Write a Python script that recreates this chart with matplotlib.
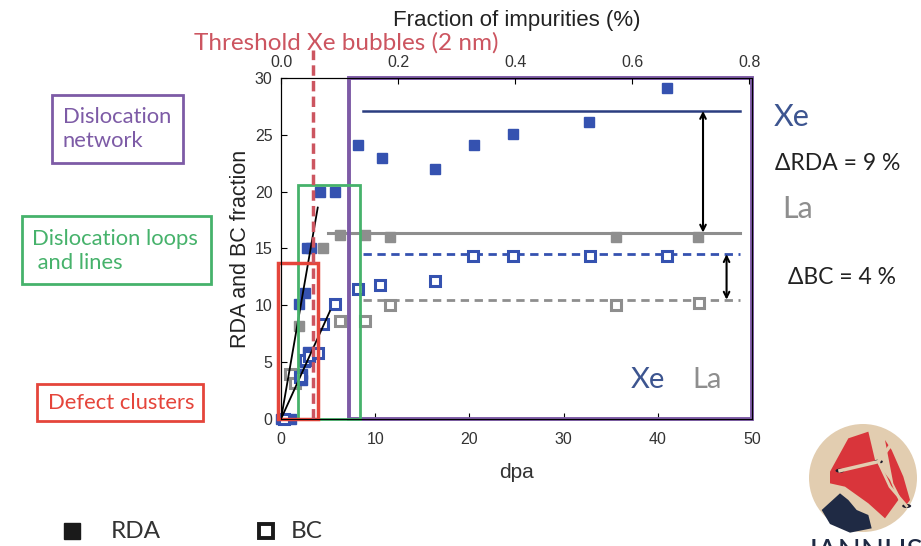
import matplotlib
matplotlib.use("Agg")
import matplotlib.pyplot as plt
from matplotlib.patches import Rectangle, Circle, Polygon, Ellipse

# ---------------- data ----------------
xe_rda_dpa = [0, 1.1, 1.9, 2.2, 2.2, 2.5, 2.5, 2.8, 2.9, 3.2, 4.1, 5.7, 8.2, 10.7, 16.4, 20.5, 24.6, 32.7, 41.0]
xe_rda_val = [0, 0, 10.1, 3.4, 4.0, 5.0, 11.1, 15.0, 5.9, 15.0, 20.0, 20.0, 24.1, 23.0, 22.0, 24.1, 25.1, 26.1, 29.1]

xe_bc_dpa = [0.3, 2.0, 2.6, 3.0, 3.9, 4.5, 5.7, 8.2, 10.5, 16.4, 20.4, 24.6, 32.8, 41.0]
xe_bc_val = [0, 3.7, 5.2, 5.5, 5.8, 8.4, 10.1, 11.4, 11.8, 12.1, 14.3, 14.3, 14.3, 14.3]

la_rda_dpa = [1.9, 3.8, 4.5, 6.3, 8.9, 11.6, 35.6, 44.3]
la_rda_val = [8.2, 5.8, 15.0, 16.2, 16.2, 16.0, 16.0, 16.0]

la_bc_dpa = [1.0, 1.5, 6.3, 8.9, 11.6, 35.6, 44.4]
la_bc_val = [4.0, 3.2, 8.6, 8.6, 10.0, 10.0, 10.2]

# saturation levels (start dpa, end dpa, level)
xe_rda_level = (8.7, 48.7, 27.1)
la_rda_level = (5.0, 48.7, 16.4)
xe_bc_level = (8.7, 48.7, 14.5)
la_bc_level = (8.7, 48.7, 10.5)

# linear fits at low dose: end points
fit1 = ([0, 3.9], [0, 18.6])
fit2 = ([0, 5.2], [0, 9.5])

threshold_dpa = 3.4
x_ticks = [0, 10, 20, 30, 40, 50]
y_ticks = [0, 5, 10, 15, 20, 25, 30]
top_ticks = [0.0, 0.2, 0.4, 0.6, 0.8]
top_labels = ["0.0", "0.2", "0.4", "0.6", "0.8"]

# ---------------- style ----------------
BLUE = "#3552b0"
BLUE_LINE = "#2b3d80"
GRAY = "#8e8e8e"
PURPLE = "#7d5ba6"
GREEN = "#46b26b"
RED = "#e5453b"
THR = "#cc5560"
CAL = ["Lato", "DejaVu Sans"]
ARIAL = ["Liberation Sans", "DejaVu Sans"]

W, H = 921, 546
fig = plt.figure(figsize=(W / 100, H / 100), dpi=100)


def fx(px):
    return px / W


def fy(py):
    return 1 - py / H


ax = fig.add_axes([fx(281), fy(419), fx(752) - fx(281), fy(78) - fy(419)])
ax.set_xlim(0, 50)
ax.set_ylim(0, 30)
ax.set_xticks(x_ticks)
ax.set_yticks(y_ticks)
ax.tick_params(axis="x", direction="in", length=4, labelsize=11.5, pad=9)
ax.tick_params(axis="y", direction="in", length=4, labelsize=11.5, pad=6)
for lab in ax.get_xticklabels() + ax.get_yticklabels():
    lab.set_family(ARIAL)
    lab.set_color("#333333")
ax.set_xlabel("dpa", fontsize=15, family=ARIAL, color="#333333", labelpad=12)
ax.set_ylabel("RDA and BC fraction", fontsize=15.5, family=ARIAL, color="#222222", labelpad=3)

ax2 = ax.twiny()
ax2.set_xlim(0, 0.8 * 50 / 49.7)
ax2.set_xticks(top_ticks)
ax2.set_xticklabels(top_labels)
ax2.tick_params(direction="in", length=4, labelsize=11.5, pad=5.5)
for lab in ax2.get_xticklabels():
    lab.set_family(ARIAL)
    lab.set_color("#333333")
ax2.set_xlabel("Fraction of impurities (%)", fontsize=16, family=ARIAL, color="#222222", labelpad=21)

ms = 7.5
# saturation lines
ax.plot(xe_rda_level[:2], [xe_rda_level[2]] * 2, color=BLUE_LINE, lw=1.8, zorder=2)
ax.plot(la_rda_level[:2], [la_rda_level[2]] * 2, color=GRAY, lw=2.2, zorder=2)
ax.plot(xe_bc_level[:2], [xe_bc_level[2]] * 2, color=BLUE, lw=2.0, ls=(0, (3, 2)), zorder=2)
ax.plot(la_bc_level[:2], [la_bc_level[2]] * 2, color=GRAY, lw=2.0, ls=(0, (3, 2)), zorder=2)

# data points
ax.plot(la_rda_dpa, la_rda_val, "s", color=GRAY, ms=ms, mec=GRAY, ls="none", zorder=4, clip_on=False)
ax.plot(la_bc_dpa, la_bc_val, "s", mfc="white", mec=GRAY, mew=2.2, ms=ms, ls="none", zorder=4, clip_on=False)
ax.plot(xe_rda_dpa, xe_rda_val, "s", color=BLUE, ms=ms, ls="none", zorder=5, clip_on=False)
ax.plot(xe_bc_dpa, xe_bc_val, "s", mfc="white", mec=BLUE, mew=2.2, ms=ms, ls="none", zorder=5, clip_on=False)

# fits
ax.plot(*fit1, color="black", lw=1.3, zorder=6)
ax.plot(*fit2, color="black", lw=1.3, zorder=6)

# regime boxes
ax.add_patch(Rectangle((7.2, 0), 50 - 7.2, 30, fill=False, ec=PURPLE, lw=2.8, zorder=7, clip_on=False))
ax.add_patch(Rectangle((1.8, 0), 8.4 - 1.8, 20.6, fill=False, ec=GREEN, lw=2.0, zorder=7, clip_on=False))
ax.add_patch(Rectangle((-0.3, 0), 3.9 + 0.3, 13.7, fill=False, ec=RED, lw=2.5, zorder=7, clip_on=False))
ax.plot([threshold_dpa, threshold_dpa], [0, 32.5], color=THR, lw=2.5, ls=(0, (3, 1.5)), zorder=8, clip_on=False)

# arrows
ax.annotate("", xy=(44.8, xe_rda_level[2]), xytext=(44.8, la_rda_level[2]),
            arrowprops=dict(arrowstyle="<->", color="black", lw=1.5, shrinkA=0, shrinkB=0), zorder=9)
ax.annotate("", xy=(47.3, xe_bc_level[2]), xytext=(47.3, la_bc_level[2]),
            arrowprops=dict(arrowstyle="<->", color="black", lw=1.5, shrinkA=0, shrinkB=0), zorder=9)

fig.text(fx(648), fy(380), "Xe", fontsize=21, family=CAL, color="#3d5590", ha="center", va="center")
fig.text(fx(707), fy(380), "La", fontsize=21, family=CAL, color=GRAY, ha="center", va="center")

# threshold label
fig.text(fx(346), fy(43), "Threshold Xe bubbles (2 nm)", fontsize=17.5, family=CAL, color=THR,
         ha="center", va="center")

# left regime boxes
def box(x0, y0, x1, y1, color, text, tx, ty):
    fig.add_artist(Rectangle((fx(x0), fy(y1)), fx(x1) - fx(x0), fy(y0) - fy(y1), fill=False,
                             ec=color, lw=2.0, transform=fig.transFigure))
    fig.text(fx(tx), fy(ty), text, fontsize=15.8, family=CAL, color=color, ha="left", va="center",
             linespacing=1.3)

box(52, 95, 183, 163, PURPLE, "Dislocation\nnetwork", 63, 129)
box(22, 216, 211, 284, GREEN, "Dislocation loops\n and lines", 32, 251)
box(37, 384, 203, 421, RED, "Defect clusters", 48, 403)

# right annotations
fig.text(fx(792), fy(117), "Xe", fontsize=22, family=CAL, color="#3d5590", ha="center", va="center")
fig.text(fx(838), fy(163), "\u0394RDA = 9 %", fontsize=16.5, family=CAL, color="#222222", ha="center", va="center")
fig.text(fx(798), fy(209), "La", fontsize=22, family=CAL, color=GRAY, ha="center", va="center")
fig.text(fx(842), fy(277), "\u0394BC = 4 %", fontsize=16.5, family=CAL, color="#222222", ha="center", va="center")

# bottom legend
fig.add_artist(plt.Line2D([fx(72)], [fy(531)], marker="s", ms=11, color="#1a1a1a", transform=fig.transFigure))
fig.text(fx(111), fy(532), "RDA", fontsize=17.5, family=CAL, color="#333333", ha="left", va="center")
fig.add_artist(plt.Line2D([fx(266)], [fy(531)], marker="s", ms=10.5, mfc="white", mec="#1a1a1a", mew=2.8,
                          transform=fig.transFigure))
fig.text(fx(291), fy(532), "BC", fontsize=17.5, family=CAL, color="#333333", ha="left", va="center")

# logo (decorative)
lg = fig.add_axes([fx(800), 0, fx(921) - fx(800), fy(412)])
lg.set_xlim(800, 921)
lg.set_ylim(546, 412)
lg.axis("off")
lg.add_patch(Circle((863, 478), 54, fc="#e2cdb0", ec="none"))


def zp(pts):
    return [(790 + a / 3, 400 + b / 3) for a, b in pts]

lg.add_patch(Polygon(zp([(120, 215), (175, 115), (235, 95), (255, 180), (300, 240), (325, 300),
                         (285, 355), (235, 310), (165, 260), (120, 250)]), fc="#d9353b", ec="none"))
lg.add_patch(Polygon(zp([(285, 120), (305, 150), (340, 230), (360, 300), (345, 320), (310, 250)]),
                     fc="#d9353b", ec="none"))
lg.add_patch(Polygon(zp([(95, 330), (150, 280), (175, 300), (200, 330), (235, 345), (245, 385),
                         (180, 398), (120, 372)]), fc="#1f2a44", ec="none"))
lg.plot(*zip(*zp([(150, 212), (265, 185), (310, 125)])), color="#e2cdb0", lw=2.5)
lg.plot(*zip(*zp([(265, 185), (300, 260), (350, 318)])), color="#e2cdb0", lw=2)
for cx, cy in [(150, 212), (265, 185), (350, 318)]:
    x, y = zp([(cx, cy)])[0]
    lg.add_patch(Ellipse((x, y), 9, 4, fc="#1a1a2a", ec="none"))
lg.text(864, 538, "JANNUS", fontsize=22, family=CAL, color="#1f2a44", ha="center", va="top")

fig.savefig("out.png", dpi=100)
